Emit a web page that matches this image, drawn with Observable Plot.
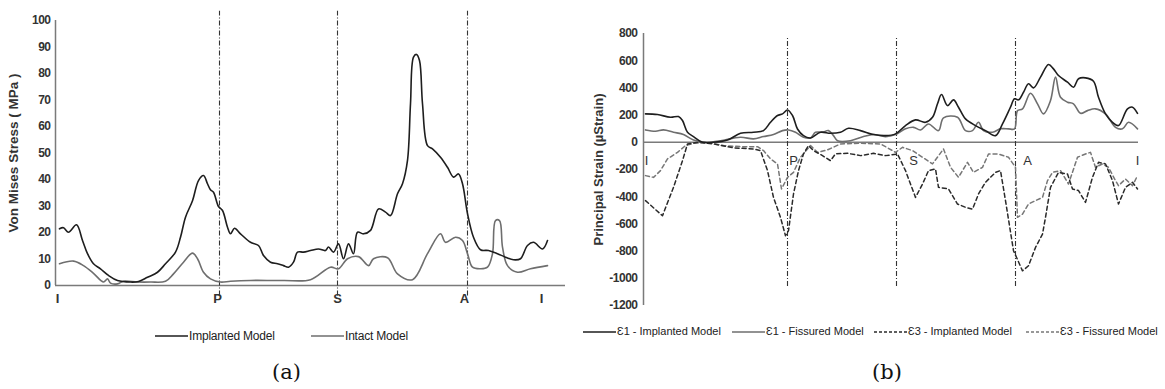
<!DOCTYPE html>
<html><head><meta charset="utf-8">
<script src="https://cdn.jsdelivr.net/npm/d3@7"></script>
<script src="https://cdn.jsdelivr.net/npm/@observablehq/plot@0.6"></script>
<style>
html,body{margin:0;padding:0;background:#fff;}
#wrap{position:relative;width:1165px;height:389px;overflow:hidden;font-family:"Liberation Sans",Arial,sans-serif;}
.panel{position:absolute;top:0;}
.panel svg{overflow:visible;}
.panel g[aria-label="y-axis tick label"]{letter-spacing:-0.5px;}
.leg{position:absolute;display:flex;align-items:center;white-space:nowrap;color:#222;line-height:1;}
.leg svg{display:block;margin-right:1px;}
.cap{position:absolute;font-family:"DejaVu Serif",serif;font-size:21px;color:#111;line-height:1;}
</style></head><body><div id="wrap"></div>
<script>
// ---------- Panel (a): Von Mises stress ----------
const aYTicks = [0,10,20,30,40,50,60,70,80,90,100];
const aXTickPos = [2,162,282,409,486];
const aXTickLab = ["I","P","S","A","I"];
const aDividers = [164,282,412];
const implantedX = [4,8,13,21,27,32,38,45,53,62,75,83,92,102,110,120,125,130,137,143,148,152,155,158,163,167,172,175,179,185,195,203,208,215,222,228,233,238,242,248,255,263,270,273,278,283,288,293,298,302,308,315,323,330,335,342,347,352,355,358,361,364,367,372,377,385,392,398,403,407,412,418,425,433,442,450,458,465,472,478,487,492];
const implantedY = [21.4,21.8,20.1,22.9,17,12,8.2,6.3,3.8,1.9,1.3,1.5,3.1,5,8.2,12.6,18.2,25.8,32,39.6,41.5,38.4,36.1,35.2,29.8,28.3,22,19.5,21.6,19.5,16.3,15.1,11.3,8.8,8.2,7.5,6.9,8.8,12.6,12.6,13.2,13.8,13.2,14.5,12.6,15.7,10.1,15.7,12,20.1,19.5,20.8,28.9,27.7,26.4,34.6,38.4,47.2,68.6,86.2,87.2,84.9,68.6,52.8,51.6,48.4,44.6,40.9,42.1,38.4,27.1,18.2,13.5,13.2,12,10.7,9.7,10.1,15.1,16.3,13.8,17];
const intactX = [4,18,28,38,48,52,55,62,68,82,95,110,118,128,137,142,148,155,165,175,195,228,255,275,283,292,303,313,318,332,342,357,372,385,390,400,407,412,417,425,432,437,440,444,447,452,462,475,492];
const intactY = [8.2,9.2,7.5,4.6,1.3,2.5,0.9,0.6,1.6,1.3,1.3,1.6,4.4,8.8,12.2,10.1,5,2.5,1.3,1.6,1.9,1.9,2.2,6.9,6.3,10.1,10.9,7.5,10.1,10.5,4.4,2.2,12,19.5,16.3,18.2,17,12,6.9,6.3,6.9,12,24.5,24.5,14.5,7.5,5,6.3,7.5];

// ---------- Panel (b): Principal strain ----------
const bYTicks = [-1200,-1000,-800,-600,-400,-200,0,200,400,600,800];
const bLabPos = [3,150,270,384,494];
const bLabTxt = ["I","P","S","A","I"];
const bDividers = [144,253,372];
const e1ImpX = [2,14,27,35,39,44,50,59,70,84,97,110,120,127,134,139,144,149,154,160,167,177,187,197,205,217,230,242,252,262,272,282,289,294,298,304,310,315,322,332,342,352,359,367,371,375,380,385,390,397,405,410,415,424,430,435,442,450,455,462,469,475,484,489,494];
const e1ImpY = [209,204,184,189,160,74,42,0,0,17,66,74,86,147,197,209,238,197,98,49,32,74,66,74,103,86,57,49,62,123,165,147,184,283,351,270,312,258,172,123,86,49,135,258,320,312,368,430,400,479,572,540,491,442,405,467,474,449,331,209,147,123,246,258,213];
const e1FisX = [2,12,20,30,40,50,64,77,97,110,120,130,139,145,152,160,167,172,179,185,190,194,207,220,230,242,252,262,270,277,285,295,300,314,322,329,335,340,349,357,365,371,374,379,387,394,400,407,412,417,424,430,437,444,452,462,472,479,485,494];
const e1FisY = [91,81,91,74,57,17,0,12,37,25,42,57,86,91,74,37,32,74,74,86,49,12,12,42,57,42,57,99,110,91,135,86,180,184,86,86,147,86,74,99,99,99,233,246,361,283,209,307,479,331,295,283,213,233,246,209,110,99,147,99];
const e3ImpX = [2,19,30,39,44,54,70,90,110,117,124,130,137,142,145,150,155,160,165,170,179,187,192,204,217,230,242,254,262,272,279,285,292,295,305,314,322,329,335,342,352,357,362,370,379,385,392,399,402,407,415,424,429,435,442,449,455,462,469,475,482,489,494];
const e3ImpY = [-429,-540,-331,-135,-12,0,-12,-41,-49,-61,-208,-405,-552,-687,-650,-380,-208,-85,-24,-61,-98,-135,-85,-81,-98,-81,-98,-86,-208,-405,-307,-208,-196,-331,-343,-454,-478,-491,-380,-294,-221,-208,-429,-797,-945,-908,-773,-675,-552,-331,-221,-233,-343,-355,-442,-257,-147,-159,-282,-454,-331,-294,-343];
const e3FisX = [2,10,17,24,34,42,50,64,80,97,114,120,127,134,138,144,150,157,167,174,184,197,217,237,242,252,259,269,279,289,300,307,315,324,330,339,345,355,365,372,374,379,385,392,399,404,409,417,425,434,442,447,452,459,465,472,475,482,489,494];
const e3FisY = [-245,-258,-208,-122,-74,-24,-7,0,-24,-32,-32,-61,-122,-159,-343,-258,-221,-110,-24,-74,-56,-12,-7,-12,-32,-74,-37,-61,-110,-159,-49,-184,-257,-147,-221,-184,-86,-86,-110,-184,-552,-528,-454,-429,-405,-282,-221,-208,-307,-110,-86,-74,-184,-159,-184,-282,-319,-270,-319,-245];

const FONT = '"Liberation Sans",Arial,sans-serif';
const rows = (xs, ys) => xs.map((x, i) => ({x, y: ys[i]}));
const wrap = document.getElementById("wrap");

function place(node, left, top, cls) {
  const d = document.createElement("div");
  d.className = cls; d.style.left = left + "px"; d.style.top = top + "px";
  d.appendChild(node); wrap.appendChild(d); return d;
}

const plotA = Plot.plot({
  width: 580, height: 320,
  marginLeft: 55, marginRight: 15, marginTop: 20, marginBottom: 35,
  x: {domain: [0, 510], axis: null},
  y: {domain: [0, 100], axis: null},
  style: {fontFamily: FONT, fontSize: "12px", color: "#333", background: "transparent"},
  marks: [
    Plot.axisY({ticks: aYTicks, tickSize: 0, tickPadding: 5, label: null, fontWeight: "bold", fontSize: 12, tickFormat: d => String(d)}),
    Plot.ruleX([0], {stroke: "#7a7a7a", strokeWidth: 1.5}),
    Plot.ruleY([0], {stroke: "#7a7a7a", strokeWidth: 1.5}),
    Plot.ruleX(aDividers, {y1: -4, y2: 103.5, stroke: "#333", strokeWidth: 1.1, strokeDasharray: "5,2,1,2"}),
    Plot.line(rows(intactX, intactY), {x: "x", y: "y", stroke: "#6e6e6e", strokeWidth: 1.6, curve: "catmull-rom"}),
    Plot.line(rows(implantedX, implantedY), {x: "x", y: "y", stroke: "#1e1e1e", strokeWidth: 1.6, curve: "catmull-rom"}),
    Plot.text(aXTickPos.map((x, i) => ({x, t: aXTickLab[i]})), {x: "x", text: "t", frameAnchor: "bottom", dy: 17, fontWeight: "bold", fontSize: 13}),
    Plot.text(["Von Mises Stress ( MPa )"], {frameAnchor: "left", textAnchor: "middle", dx: -42, rotate: -90, fontWeight: "bold", fontSize: 13.5})
  ]
});
place(plotA, 0, 0, "panel");

const plotB = Plot.plot({
  width: 585, height: 320,
  marginLeft: 63, marginRight: 27, marginTop: 33, marginBottom: 15,
  x: {domain: [0, 495], axis: null},
  y: {domain: [-1200, 800], axis: null},
  style: {fontFamily: FONT, fontSize: "12px", color: "#333", background: "transparent"},
  marks: [
    Plot.axisY({ticks: bYTicks, tickSize: 0, tickPadding: 6, label: null, fontWeight: "bold", fontSize: 12, tickFormat: d => String(d)}),
    Plot.ruleX([0], {stroke: "#7a7a7a", strokeWidth: 1.5}),
    Plot.ruleY([0], {stroke: "#7a7a7a", strokeWidth: 1.5}),
    Plot.ruleX(bDividers, {y1: -1060, y2: 770, stroke: "#333", strokeWidth: 1.1, strokeDasharray: "5,2,1,2"}),
    Plot.line(rows(e3FisX, e3FisY), {x: "x", y: "y", stroke: "#777", strokeWidth: 1.5, strokeDasharray: "4,3"}),
    Plot.line(rows(e3ImpX, e3ImpY), {x: "x", y: "y", stroke: "#2a2a2a", strokeWidth: 1.5, strokeDasharray: "4,3"}),
    Plot.line(rows(e1FisX, e1FisY), {x: "x", y: "y", stroke: "#6e6e6e", strokeWidth: 1.6, curve: "catmull-rom"}),
    Plot.line(rows(e1ImpX, e1ImpY), {x: "x", y: "y", stroke: "#1e1e1e", strokeWidth: 1.6, curve: "catmull-rom"}),
    Plot.text(bLabPos.map((x, i) => ({x, t: bLabTxt[i]})), {x: "x", y: -135, text: "t", fontSize: 13, fill: "#333"}),
    Plot.text(["Principal Strain (µStrain)"], {frameAnchor: "left", textAnchor: "middle", dx: -45, rotate: -90, fontWeight: "bold", fontSize: 13})
  ]
});
place(plotB, 580, 0, "panel");

// ---------- legends ----------
function swatch(color, dash) {
  const s = d3.create("svg").attr("width", 33).attr("height", 6);
  s.append("line").attr("x1", 0).attr("x2", 33).attr("y1", 3).attr("y2", 3)
    .attr("stroke", color).attr("stroke-width", 1.5).attr("stroke-dasharray", dash || null);
  return s.node();
}
function legendItem(label, color, dash, left, top, size, ls) {
  const d = document.createElement("div");
  d.className = "leg"; d.style.left = left + "px"; d.style.top = top + "px"; d.style.fontSize = size + "px";
  d.style.letterSpacing = ls + "px";
  d.appendChild(swatch(color, dash));
  const sp = document.createElement("span"); sp.textContent = label; d.appendChild(sp);
  wrap.appendChild(d);
}
const legA = ["Implanted Model", "Intact Model"];
const legB = ["Ɛ1 - Implanted Model", "Ɛ1 - Fissured Model", "Ɛ3 - Implanted Model", "Ɛ3 - Fissured Model"];
legendItem(legA[0], "#1e1e1e", null, 155, 330, 12, -0.2);
legendItem(legA[1], "#6e6e6e", null, 311, 330, 12, -0.2);
legendItem(legB[0], "#1e1e1e", null, 583, 326, 11, 0);
legendItem(legB[1], "#6e6e6e", null, 732, 326, 11, 0);
legendItem(legB[2], "#2a2a2a", "3,2", 874, 326, 11, 0);
legendItem(legB[3], "#777", "3,2", 1026, 326, 11, 0);

const capA = document.createElement("div"); capA.className = "cap"; capA.textContent = "(a)";
capA.style.left = "272px"; capA.style.top = "362px"; wrap.appendChild(capA);
const capB = document.createElement("div"); capB.className = "cap"; capB.textContent = "(b)";
capB.style.left = "872px"; capB.style.top = "362px"; wrap.appendChild(capB);
</script></body></html>
